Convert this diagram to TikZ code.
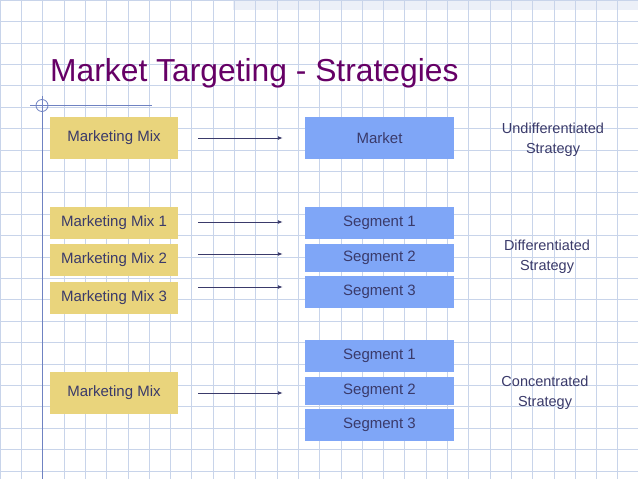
\documentclass[tikz,border=0pt]{standalone}
\usepackage{fontspec}
\setmainfont{Liberation Sans}
\usetikzlibrary{arrows.meta}
\definecolor{gridc}{HTML}{C8D4EA}
\definecolor{ybox}{HTML}{E9D47C}
\definecolor{bbox}{HTML}{7FA6F7}
\definecolor{txt}{HTML}{3A3A6A}
\definecolor{ttl}{HTML}{660066}
\definecolor{deco}{HTML}{6F82C2}
\begin{document}
\begin{tikzpicture}[x=1pt,y=-1pt,
  ybx/.style={fill=ybox,draw=none,inner sep=0,minimum width=128,text=txt,font=\fontsize{15}{17}\selectfont},
  bbx/.style={fill=bbox,draw=none,inner sep=0,minimum width=149,text=txt,font=\fontsize{15}{17}\selectfont},
  lbl/.style={text=txt,align=center,font=\fontsize{14.5}{20}\selectfont},
  arr/.style={draw=txt,line width=0.9,-{Latex[length=5pt,width=4pt]}}]
\useasboundingbox (0,0) rectangle (638,479);
\fill[white] (0,0) rectangle (638,479);
\fill[gridc!35] (233,0) rectangle (638,10);
\foreach \i in {0,...,30} {\draw[gridc,line width=0.6] (21.3*\i,0) -- (21.3*\i,479);}
\foreach \j in {0,...,22} {\draw[gridc,line width=0.6] (0,21.4*\j) -- (638,21.4*\j);}
\draw[deco,line width=0.8] (30,105.5) -- (152,105.5);
\draw[deco,line width=0.8] (42,96) -- (42,479);
\draw[deco,line width=0.8] (42,105.5) circle (6);
\node[anchor=base west,text=ttl,font=\fontsize{31.8}{34}\selectfont,inner sep=0] (title) at (50,81) {Market Targeting - Strategies};
\node[ybx,minimum height=42] (mm) at (114,138) {Marketing Mix};
\node[bbx,minimum height=42] (mk) at (379.5,138) {Market};
\node[ybx,minimum height=32] (m1) at (114,223) {Marketing Mix 1};
\node[ybx,minimum height=32] (m2) at (114,260) {Marketing Mix 2};
\node[ybx,minimum height=32] (m3) at (114,298) {Marketing Mix 3};
\node[bbx,minimum height=32] (s1) at (379.5,223) {Segment 1};
\node[bbx,minimum height=28] (s2) at (379.5,258) {Segment 2};
\node[bbx,minimum height=32] (s3) at (379.5,292) {Segment 3};
\node[bbx,minimum height=32] (t1) at (379.5,356) {Segment 1};
\node[bbx,minimum height=28] (t2) at (379.5,391) {Segment 2};
\node[bbx,minimum height=32] (t3) at (379.5,425) {Segment 3};
\node[ybx,minimum height=42] (mb) at (114,393) {Marketing Mix};
\draw[arr] ([xshift=20]mm.east) -- ([xshift=-22]mk.west);
\draw[arr] ([xshift=20,yshift=1]m1.east) -- ([xshift=-22,yshift=1]s1.west);
\draw[arr] ([xshift=20,yshift=6]m2.east) -- ([xshift=-22,yshift=4]s2.west);
\draw[arr] ([xshift=20,yshift=11]m3.east) -- ([xshift=-22,yshift=5]s3.west);
\draw[arr] ([xshift=20]mb.east) -- ([xshift=-22,yshift=-2]t2.west);
\node[lbl] (l1) at (553,140) {Undifferentiated\\Strategy};
\node[lbl] (l2) at (547,257) {Differentiated\\Strategy};
\node[lbl] (l3) at (545,393) {Concentrated\\Strategy};
\end{tikzpicture}
\end{document}
